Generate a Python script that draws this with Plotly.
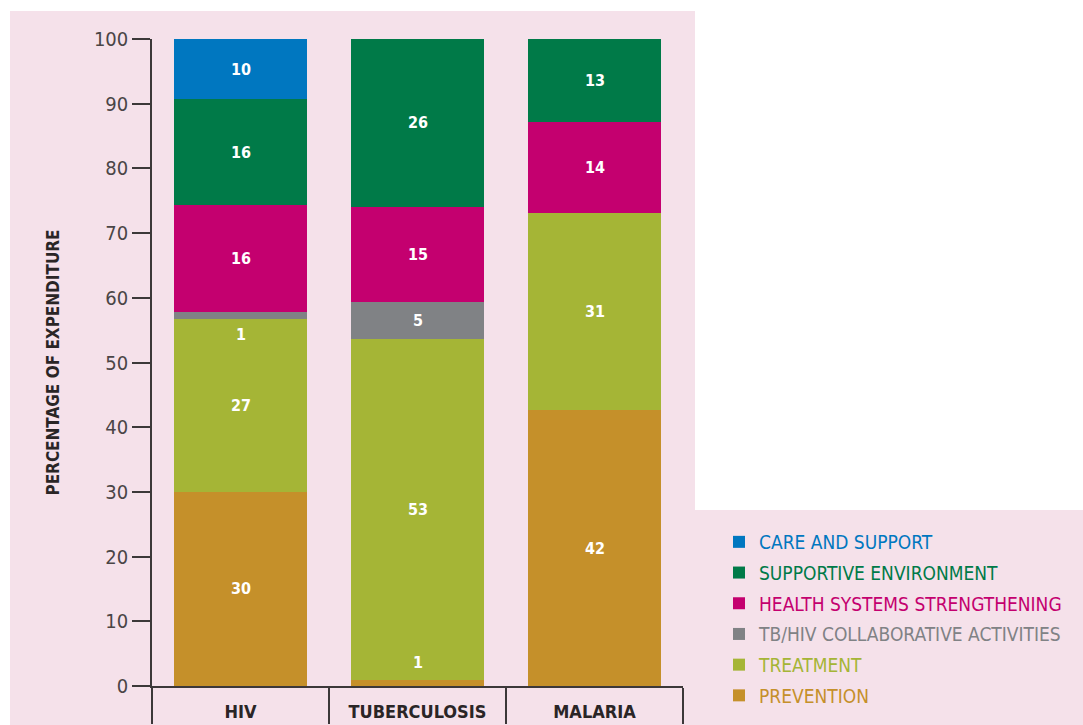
import plotly.graph_objects as go

categories = ["HIV", "TUBERCULOSIS", "MALARIA"]

series_names = [
    "PREVENTION",
    "TREATMENT",
    "TB/HIV COLLABORATIVE ACTIVITIES",
    "HEALTH SYSTEMS STRENGTHENING",
    "SUPPORTIVE ENVIRONMENT",
    "CARE AND SUPPORT",
]

# bottom -> top, % of expenditure (None = no segment)
prevention = [30.0, 0.9, 42.6]
treatment = [26.7, 52.7, 30.5]
tb_hiv = [1.1, 5.7, None]
health_systems = [16.5, 14.8, 14.0]
supportive = [16.4, 25.9, 12.9]
care_support = [9.3, None, None]

# printed labels
prevention_lbl = ["30", "1", "42"]
treatment_lbl = ["27", "53", "31"]
tb_hiv_lbl = ["1", "5", ""]
health_systems_lbl = ["16", "15", "14"]
supportive_lbl = ["16", "26", "13"]
care_support_lbl = ["10", "", ""]

y_ticks = [0, 10, 20, 30, 40, 50, 60, 70, 80, 90, 100]

_PINK = "#F5E1EA"
_DARK = "#2A2526"
_AXIS = "#3C3839"
_FONT = "DejaVu Sans Condensed, Liberation Sans Narrow, Arial Narrow, sans-serif"
_COLORS = ["#C5902A", "#A5B536", "#808285", "#C4006F", "#007A48", "#0077C0"]

values = [prevention, treatment, tb_hiv, health_systems, supportive, care_support]
labels = [prevention_lbl, treatment_lbl, tb_hiv_lbl, health_systems_lbl,
          supportive_lbl, care_support_lbl]

# plot area in pixels
W, H = 1083, 725
L, R, T, B = 152, 400, 39, 39
pw, ph = W - L - R, H - T - B


def px_x(x):
    return (x - L) / pw


def px_y(y):
    return (H - B - y) / ph


fig = go.Figure()
n = len(series_names)
for i, (name, vals, col) in enumerate(zip(series_names, values, _COLORS)):
    fig.add_trace(go.Bar(
        x=categories, y=vals,
        name=f"<span style='color:{col}'>{name}</span>",
        legendgroup=name,
        legendrank=n - i,
        marker=dict(color=col, line=dict(width=0)),
        hoverinfo="x+y",
    ))

# segment labels
annotations = []
for j, cat in enumerate(categories):
    base = 0.0
    for i, (vals, lbls) in enumerate(zip(values, labels)):
        v = vals[j] or 0.0
        if lbls[j]:
            if v >= 3:
                yy = base + v / 2
            elif i > 0:
                yy = base - 2.4
            else:
                yy = base + v + 2.8
            annotations.append(dict(
                x=cat, y=yy, text=f"<b>{lbls[j]}</b>", showarrow=False,
                font=dict(family=_FONT, size=16, color="white"),
            ))
        base += v

shapes = [
    dict(type="rect", xref="paper", yref="paper", layer="below",
         x0=px_x(10), x1=px_x(695), y0=px_y(11), y1=px_y(H + 5),
         fillcolor=_PINK, line=dict(width=0)),
    dict(type="rect", xref="paper", yref="paper", layer="below",
         x0=px_x(695), x1=px_x(W + 5), y0=px_y(510), y1=px_y(H + 5),
         fillcolor=_PINK, line=dict(width=0)),
]

fig.update_layout(
    width=W, height=H,
    margin=dict(l=L, r=R, t=T, b=B, autoexpand=False),
    paper_bgcolor="white",
    plot_bgcolor="rgba(0,0,0,0)",
    barmode="stack",
    bargap=0.243,
    font=dict(family=_FONT, color=_DARK),
    showlegend=True,
    legend=dict(
        x=px_x(719), y=px_y(523), xanchor="left", yanchor="top",
        traceorder="grouped", bgcolor="rgba(0,0,0,0)",
        font=dict(family=_FONT, size=19),
        tracegroupgap=3,
    ),
    xaxis=dict(
        showline=True, linecolor=_AXIS, linewidth=1.5,
        ticks="outside", tickson="boundaries", ticklen=36,
        tickcolor=_AXIS, tickwidth=1.5, tickangle=0,
        ticklabelstandoff=9,
        tickfont=dict(family=_FONT, size=18, color=_DARK),
        tickvals=categories,
        ticktext=[f"<b>{c}</b>" for c in categories],
        showgrid=False,
    ),
    yaxis=dict(
        range=[0, 100], tickvals=y_ticks,
        showline=True, linecolor=_AXIS, linewidth=1.5,
        ticks="outside", ticklen=18, tickcolor=_AXIS, tickwidth=1.5,
        tickfont=dict(family=_FONT, size=20, color="#4A4546"),
        showgrid=False, zeroline=False,
        title=dict(text="<b>PERCENTAGE OF EXPENDITURE</b>", standoff=30,
                   font=dict(family=_FONT, size=17, color=_DARK)),
    ),
    annotations=annotations,
    shapes=shapes,
)

fig.write_html("out.html", config={"displayModeBar": False},
               post_script="document.body.style.margin='0';")
